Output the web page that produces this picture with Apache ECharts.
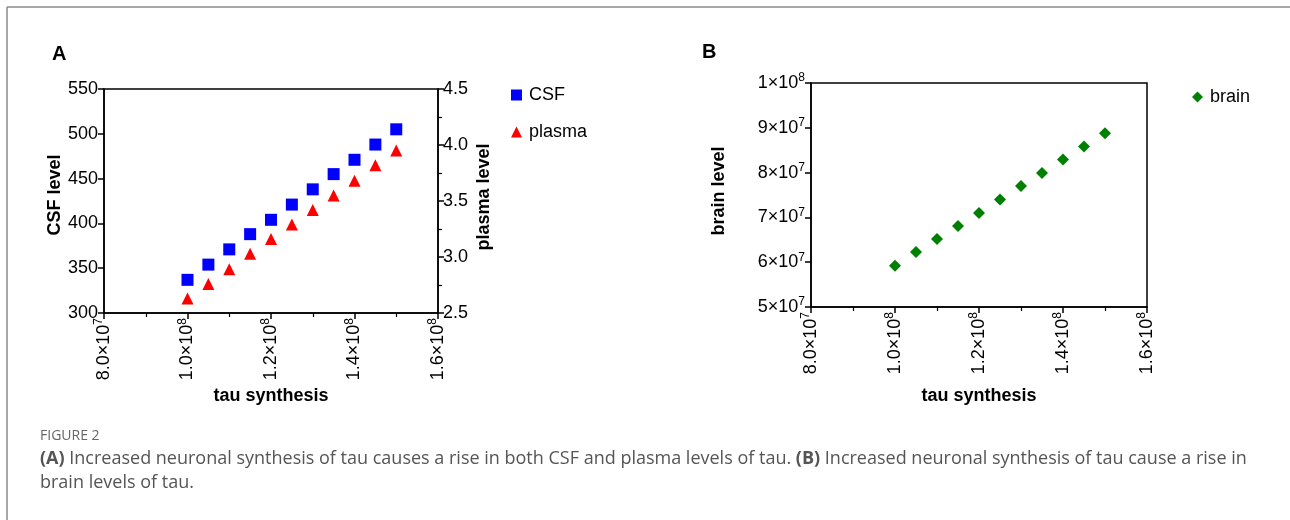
<!DOCTYPE html>
<html>
<head>
<meta charset="utf-8">
<script src="https://cdn.jsdelivr.net/npm/echarts@6/dist/echarts.min.js"></script>
<style>
html,body{margin:0;padding:0;background:#fff;}
#c{width:1290px;height:520px;}
</style>
</head>
<body>
<div id="c"></div>
<script>
// Data
const tauSynthesis = [1.0e8, 1.05e8, 1.1e8, 1.15e8, 1.2e8, 1.25e8, 1.3e8, 1.35e8, 1.4e8, 1.45e8, 1.5e8];
const csfLevel = [337, 354, 371, 388, 404, 421, 438, 455, 471, 488, 505];
const plasmaLevel = [2.63, 2.76, 2.89, 3.03, 3.16, 3.29, 3.42, 3.55, 3.68, 3.82, 3.95];
const brainLevel = [5.92e7, 6.23e7, 6.52e7, 6.81e7, 7.10e7, 7.40e7, 7.70e7, 7.99e7, 8.29e7, 8.58e7, 8.88e7];
// tick labels: [mantissa text, exponent]
const xTickLabels = {80000000: ['8.0×10', '7'], 100000000: ['1.0×10', '8'], 120000000: ['1.2×10', '8'], 140000000: ['1.4×10', '8'], 160000000: ['1.6×10', '8']};
const brainTickLabels = {50000000: ['5×10', '7'], 60000000: ['6×10', '7'], 70000000: ['7×10', '7'], 80000000: ['8×10', '7'], 90000000: ['9×10', '7'], 100000000: ['1×10', '8']};
const captionTitle = 'FIGURE 2';
const captionLine1 = ['(A)', ' Increased neuronal synthesis of tau causes a rise in both CSF and plasma levels of tau. ', '(B)', ' Increased neuronal synthesis of tau cause a rise in'];
const captionLine2 = 'brain levels of tau.';

const FONT = '"Liberation Sans", Arial, "DejaVu Sans", sans-serif';
const chart = echarts.init(document.getElementById('c'), null, {renderer: 'canvas'});

const supRich = {
  m: {fontFamily: FONT, fontSize: 18, color: '#000', lineHeight: 22},
  s: {fontFamily: FONT, fontSize: 12, color: '#000', lineHeight: 14, verticalAlign: 'top'}
};
function supFmt(table) {
  return v => {
    const t = table[Math.round(v)];
    return t ? '{m|' + t[0] + '}{s|' + t[1] + '}' : '';
  };
}

function xAxisCfg(gridIndex, gap) {
  return {
    type: 'value', gridIndex: gridIndex, min: 80000000, max: 160000000, interval: 20000000,
    name: 'tau synthesis', nameLocation: 'middle', nameGap: gap,
    nameTextStyle: {fontFamily: FONT, fontSize: 18, fontWeight: 'bold', color: '#000'},
    axisLine: {show: true, onZero: false, lineStyle: {color: '#000', width: 1.5}},
    axisTick: {show: true, inside: false, length: 6, lineStyle: {color: '#000', width: 1.5}},
    minorTick: {show: true, splitNumber: 2, length: 4, lineStyle: {color: '#000', width: 1.2}},
    splitLine: {show: false},
    axisLabel: {rotate: 90, margin: 5, fontFamily: FONT, fontSize: 18, color: '#000',
      formatter: supFmt(xTickLabels), rich: supRich}
  };
}

const option = {
  animation: false,
  backgroundColor: '#fff',
  textStyle: {fontFamily: FONT},
  grid: [
    {left: 104, top: 89, width: 334, height: 224, show: true, borderColor: '#000', borderWidth: 1.5, backgroundColor: 'transparent'},
    {left: 811, top: 83, width: 336, height: 224, show: true, borderColor: '#000', borderWidth: 1.5, backgroundColor: 'transparent'}
  ],
  xAxis: [xAxisCfg(0, 74), xAxisCfg(1, 80)],
  yAxis: [
    {
      type: 'value', gridIndex: 0, min: 300, max: 550, interval: 50, position: 'left',
      name: 'CSF level', nameLocation: 'middle', nameGap: 37, nameRotate: 90,
      nameTextStyle: {fontFamily: FONT, fontSize: 18, fontWeight: 'bold', color: '#000', padding: [0, 0, 0, 12]},
      axisLine: {show: true, onZero: false, lineStyle: {color: '#000', width: 1.5}},
      axisTick: {show: true, length: 6, lineStyle: {color: '#000', width: 1.5}},
      splitLine: {show: false},
      axisLabel: {margin: 6, fontFamily: FONT, fontSize: 18, color: '#000'}
    },
    {
      type: 'value', gridIndex: 0, min: 2.5, max: 4.5, interval: 0.5, position: 'right',
      name: 'plasma level', nameLocation: 'middle', nameGap: 37, nameRotate: 90,
      nameTextStyle: {fontFamily: FONT, fontSize: 18, fontWeight: 'bold', color: '#000', padding: [0, 0, 0, 8]},
      axisLine: {show: true, onZero: false, lineStyle: {color: '#000', width: 1.5}},
      axisTick: {show: true, length: 6, lineStyle: {color: '#000', width: 1.5}},
      minorTick: {show: true, splitNumber: 2, length: 4, lineStyle: {color: '#000', width: 1.2}},
      splitLine: {show: false},
      axisLabel: {margin: 5, fontFamily: FONT, fontSize: 18, color: '#000', formatter: v => v.toFixed(1)}
    },
    {
      type: 'value', gridIndex: 1, min: 50000000, max: 100000000, interval: 10000000, position: 'left',
      name: 'brain level', nameLocation: 'middle', nameGap: 83, nameRotate: 90,
      nameTextStyle: {fontFamily: FONT, fontSize: 18, fontWeight: 'bold', color: '#000', padding: [0, 0, 0, 8]},
      axisLine: {show: true, onZero: false, lineStyle: {color: '#000', width: 1.5}},
      axisTick: {show: true, length: 6, lineStyle: {color: '#000', width: 1.5}},
      splitLine: {show: false},
      axisLabel: {margin: 6, fontFamily: FONT, fontSize: 18, color: '#000',
        formatter: supFmt(brainTickLabels), rich: supRich}
    }
  ],
  legend: [
    {
      left: 506, top: 81, orient: 'vertical', itemGap: 19, itemWidth: 11, itemHeight: 11,
      data: [{name: 'CSF', icon: 'rect'}, {name: 'plasma', icon: 'triangle'}],
      textStyle: {fontFamily: FONT, fontSize: 18, color: '#000', padding: [0, 0, 0, 2]}
    },
    {
      left: 1187, top: 83, orient: 'vertical', itemWidth: 11, itemHeight: 11,
      data: [{name: 'brain', icon: 'diamond'}],
      textStyle: {fontFamily: FONT, fontSize: 18, color: '#000', padding: [0, 0, 0, 2]}
    }
  ],
  series: [
    {name: 'CSF', type: 'scatter', xAxisIndex: 0, yAxisIndex: 0, symbol: 'rect', symbolSize: 12,
      itemStyle: {color: '#0000ff', opacity: 1}, data: tauSynthesis.map((x, i) => [x, csfLevel[i]])},
    {name: 'plasma', type: 'scatter', xAxisIndex: 0, yAxisIndex: 1, symbol: 'triangle', symbolSize: 12,
      itemStyle: {color: '#ff0000', opacity: 1}, data: tauSynthesis.map((x, i) => [x, plasmaLevel[i]])},
    {name: 'brain', type: 'scatter', xAxisIndex: 1, yAxisIndex: 2, symbol: 'diamond', symbolSize: 12,
      itemStyle: {color: '#008000', opacity: 1}, data: tauSynthesis.map((x, i) => [x, brainLevel[i]])}
  ],
  graphic: [
    {type: 'line', shape: {x1: 7, y1: 7, x2: 1290, y2: 7}, style: {stroke: '#8a8a8a', lineWidth: 1.5}},
    {type: 'line', shape: {x1: 7, y1: 7, x2: 7, y2: 520}, style: {stroke: '#8a8a8a', lineWidth: 1.5}},
    {type: 'text', left: 52, top: 44, style: {text: 'A', font: 'bold 20px ' + FONT, fill: '#000'}},
    {type: 'text', left: 702, top: 42, style: {text: 'B', font: 'bold 20px ' + FONT, fill: '#000'}},
    {type: 'text', left: 40, top: 429, style: {text: captionTitle, font: '14px "Open Sans", sans-serif', fill: '#666'}},
    {type: 'text', left: 40, top: 450, style: {
      text: '{b|' + captionLine1[0] + '}{n|' + captionLine1[1] + '}{b|' + captionLine1[2] + '}{n|' + captionLine1[3] + '}\n{n|' + captionLine2 + '}',
      rich: {
        b: {fontFamily: '"Open Sans", sans-serif', fontSize: 18, fontWeight: 'bold', fill: '#555', color: '#555', lineHeight: 24},
        n: {fontFamily: '"Open Sans", sans-serif', fontSize: 18, fill: '#555', color: '#555', lineHeight: 24}
      }
    }}
  ]
};
chart.setOption(option);
</script>
</body>
</html>
